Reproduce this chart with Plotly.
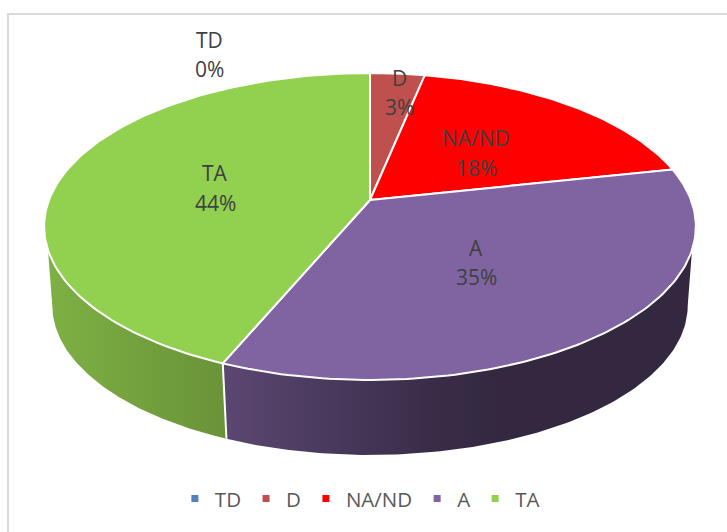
import math
import plotly.graph_objects as go

names = ["TD", "D", "NA/ND", "A", "TA"]
values = [0.0, 3.2, 18.4, 34.7, 43.7]
top_colors = ["#4f81bd", "#c0504d", "#ff0000", "#8064a2", "#92d050"]
side_scales = {
    "A": [[0, "#5c4772"], [0.22, "#4a3a5e"], [0.45, "#392c48"], [0.6, "#332840"], [1, "#332840"]],
    "TA": [[0, "#7eb044"], [1, "#699338"]],
}
label_names_y = [40, 78, 138, 248, 173]
label_pct_y = [69, 107, 168, 277, 203]
label_x = [209, 399, 476, 476, 215]

# projection of the tilted pie onto the page
CX, CY, RX, RY, P = 370.0, 200.0, 321.0, 148.9, 0.1726
SCALE, BOTTOM_CY = 0.975, 279.5
TAN_TOP, TAN_BOTTOM = 0.3176, 0.1726


def project(theta, bottom=False):
    u, v = math.sin(theta), math.cos(theta)
    k = SCALE if bottom else 1.0
    y0 = BOTTOM_CY if bottom else CY
    d = 1 + P * v
    return CX + k * RX * u / d, y0 - k * RY * v / d


def arc(a, b, bottom=False, n=120):
    pts = [project(a + (b - a) * i / n, bottom) for i in range(n + 1)]
    return [p[0] for p in pts], [p[1] for p in pts]


total = sum(values)
edges = [0.0]
for val in values:
    edges.append(edges[-1] + val / total * 2 * math.pi)

fig = go.Figure()

# side walls
right_top, right_bot = math.acos(-TAN_TOP), math.acos(-TAN_BOTTOM)
left_top, left_bot = 2 * math.pi - right_top, 2 * math.pi - right_bot
for i, name in enumerate(names):
    if name not in side_scales:
        continue
    a, b = edges[i], edges[i + 1]
    xt, yt = arc(max(a, right_top), min(b, left_top))
    xb, yb = arc(max(a, right_bot), min(b, left_bot), bottom=True)
    fig.add_trace(go.Scatter(
        x=xt + xb[::-1], y=yt + yb[::-1], mode="lines", fill="toself",
        line=dict(width=0), fillgradient=dict(type="horizontal", colorscale=side_scales[name]),
        showlegend=False, hoverinfo="skip"))

# seam between the side walls
for i, name in enumerate(names[:-1]):
    e = edges[i + 1]
    if right_top < e < left_top:
        t, s = project(e), project(e, bottom=True)
        fig.add_trace(go.Scatter(x=[t[0], s[0]], y=[t[1], s[1]], mode="lines",
                                 line=dict(color="white", width=2),
                                 showlegend=False, hoverinfo="skip"))

# top face
for i, name in enumerate(names):
    if values[i] == 0:
        continue
    xs, ys = arc(edges[i], edges[i + 1])
    fig.add_trace(go.Scatter(
        x=[CX] + xs + [CX], y=[CY] + ys + [CY], mode="lines", fill="toself",
        fillcolor=top_colors[i], line=dict(color="white", width=2),
        showlegend=False, name=name, hoverinfo="name"))

# legend entries
for i, name in enumerate(names):
    fig.add_trace(go.Scatter(x=[None], y=[None], mode="markers", name=name,
                             marker=dict(symbol="square", size=7, color=top_colors[i])))

# data labels
for i, name in enumerate(names):
    pct = f"{round(values[i] / total * 100)}%"
    for txt, y in ((name, label_names_y[i]), (pct, label_pct_y[i])):
        fig.add_annotation(x=label_x[i], y=y, text=txt, showarrow=False,
                           font=dict(size=21, color="#404040"))

fig.update_layout(
    width=727, height=532, margin=dict(l=0, r=0, t=0, b=0),
    paper_bgcolor="white", plot_bgcolor="white",
    font=dict(family="Open Sans", size=20, color="#595959"),
    xaxis=dict(range=[0, 727], visible=False),
    yaxis=dict(range=[532, 0], visible=False),
    legend=dict(orientation="h", x=0.495, xanchor="center", y=0.0625, yanchor="middle",
                itemwidth=30, bgcolor="rgba(0,0,0,0)", font=dict(size=20.5, color="#595959")),
    shapes=[dict(type="rect", xref="x", yref="y", x0=8, y0=14, x1=740, y1=545,
                 line=dict(color="#d9d9d9", width=2), layer="below")],
)
fig.write_html("out.html", config={"displayModeBar": False},
               post_script="document.body.style.margin='0';")
